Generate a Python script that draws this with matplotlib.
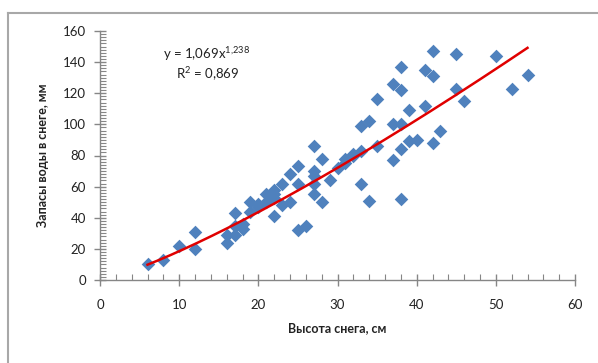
import numpy as np
import matplotlib
matplotlib.use("Agg")
import matplotlib.pyplot as plt
from matplotlib.ticker import MultipleLocator
from matplotlib.lines import Line2D

plt.rcParams['font.family'] = ['Lato', 'DejaVu Sans']
plt.rcParams['mathtext.fontset'] = 'custom'
plt.rcParams['mathtext.rm'] = 'Lato'
plt.rcParams['mathtext.it'] = 'Lato'
plt.rcParams['mathtext.default'] = 'regular'

snow_height = [6, 8, 10, 12, 12, 16, 16, 17, 17, 17, 18, 18, 19, 19, 20, 20,
               21, 21, 22, 22, 22, 22, 23, 23, 24, 24, 25, 25, 25, 26,
               27, 27, 27, 27, 27, 28, 28, 29, 30, 31, 31, 32, 32,
               33, 33, 33, 34, 34, 35, 35, 37, 37, 37,
               38, 38, 38, 38, 38, 39, 39, 40, 41, 41, 42, 42, 42, 43,
               45, 45, 46, 50, 52, 54]
water = [10, 13, 22, 31, 20, 24, 29, 43, 29, 35, 33, 36, 44, 50, 49, 47,
         55, 50, 58, 55, 41, 53, 62, 48, 68, 50, 73, 62, 32, 35,
         86, 70, 67, 62, 55, 78, 50, 64, 72, 78, 75, 81, 80,
         99, 83, 62, 102, 51, 116, 86, 126, 100, 77,
         137, 122, 100, 84, 52, 109, 89, 90, 135, 112, 147, 131, 88, 96,
         145, 123, 115, 144, 123, 132]

trend_a = 1.069
trend_b = 1.238

fig = plt.figure(figsize=(5.98, 3.63), dpi=100)
ax = fig.add_axes([100/598, 1-280/363, 475/598, 249/363])

ax.scatter(snow_height, water, marker='D', s=48, color='#4F81BD', zorder=3, linewidths=0)
xs = np.linspace(min(snow_height), max(snow_height), 200)
ax.plot(xs, trend_a * xs**trend_b, color='#E00000', lw=1.8, zorder=4)

ax.set_xlim(0, 60)
ax.set_ylim(0, 160)
ax.xaxis.set_major_locator(MultipleLocator(10))
ax.xaxis.set_minor_locator(MultipleLocator(2))
ax.yaxis.set_major_locator(MultipleLocator(20))
ax.yaxis.set_minor_locator(MultipleLocator(2))
for s in ['top', 'right']:
    ax.spines[s].set_visible(False)
for s in ['left', 'bottom']:
    ax.spines[s].set_color('#868686')
    ax.spines[s].set_linewidth(1.0)
ax.tick_params(which='major', direction='inout', length=8, width=1, color='#868686',
               labelsize=9.5, labelcolor='#222222', pad=6)
ax.tick_params(which='minor', direction='in', length=4, width=0.8, color='#868686')
ax.tick_params(axis='x', which='major', pad=10)

ax.set_xlabel('Высота снега, см', fontsize=9, fontweight='bold', color='#222222', labelpad=8)
ax.set_ylabel('Запасы воды в снеге, мм', fontsize=9, fontweight='bold', color='#222222', labelpad=10)

fig.text(206/598, 1-54/363, r'y = 1,069x$^{1{,}238}$', ha='center', va='center', fontsize=9.5, color='#222222')
fig.text(208/598, 1-74/363, r'R$^{2}$ = 0,869', ha='center', va='center', fontsize=9.5, color='#222222')

fx, fy = 8/598, 1-13/363
fig.add_artist(Line2D([fx, fx], [0, fy], transform=fig.transFigure, color='#a8a8a8', lw=1.5))
fig.add_artist(Line2D([fx, 1], [fy, fy], transform=fig.transFigure, color='#a8a8a8', lw=1.5))

fig.savefig('out.png', dpi=100)
